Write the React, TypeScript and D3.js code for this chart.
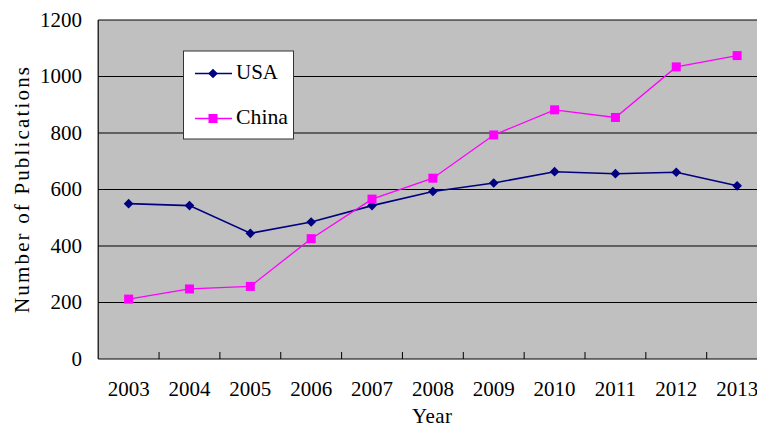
import React from "react";
import * as d3 from "d3";

const years = ["2003", "2004", "2005", "2006", "2007", "2008", "2009", "2010", "2011", "2012", "2013"];
const usa = [550, 543, 445, 485, 543, 593, 623, 663, 656, 661, 613];
const china = [212, 248, 257, 426, 566, 640, 793, 882, 855, 1034, 1074];
const yTicks = [0, 200, 400, 600, 800, 1000, 1200];

const W = 757;
const H = 431;
const left = 98.2;
const band = 60.85;
const top = 20;
const bottom = 359;
const FONT = "Liberation Serif, DejaVu Serif, serif";
const ts = { fontFamily: FONT, fontSize: 21, fill: "#000" } as const;

export default function App() {
  const x = d3
    .scaleBand<string>()
    .domain(years)
    .range([left, left + band * years.length])
    .padding(0);
  const y = d3.scaleLinear().domain([0, 1200]).range([bottom, top]);
  const cx = (yr: string) => (x(yr) as number) + x.bandwidth() / 2;

  const line = d3
    .line<number>()
    .x((_, i) => cx(years[i]))
    .y((d) => y(d));

  const right = left + band * years.length;
  const diamond = d3.symbol(d3.symbolDiamond2, 60)() || "";

  return (
    <svg width={W} height={H} style={{ position: "absolute", left: 0, top: 0, background: "#fff" }}>
      <rect x={left} y={top} width={right - left} height={bottom - top} fill="#C0C0C0" />
      {yTicks.map((t) => (
        <g key={t}>
          {t > 0 && <line x1={left} x2={right} y1={y(t)} y2={y(t)} stroke="#000" strokeWidth={1} />}
          <text x={82} y={y(t) + 2} textAnchor="end" dominantBaseline="middle" style={ts}>
            {t}
          </text>
        </g>
      ))}
      <line x1={left} x2={left} y1={top} y2={bottom} stroke="#000" strokeWidth={1.2} />
      <line x1={left} x2={right} y1={bottom} y2={bottom} stroke="#000" strokeWidth={1.2} />
      {years.slice(1).map((yr) => (
        <line key={yr} x1={x(yr)} x2={x(yr)} y1={bottom} y2={bottom - 7} stroke="#000" strokeWidth={1} />
      ))}
      {years.map((yr) => (
        <text key={yr} x={cx(yr)} y={391} textAnchor="middle" dominantBaseline="middle" style={ts}>
          {yr}
        </text>
      ))}
      <path d={line(usa) || ""} fill="none" stroke="#000080" strokeWidth={1.6} />
      <path d={line(china) || ""} fill="none" stroke="#FF00FF" strokeWidth={1.3} />
      {usa.map((v, i) => (
        <path key={"u" + i} d={diamond} transform={`translate(${cx(years[i])},${y(v)})`} fill="#000080" />
      ))}
      {china.map((v, i) => (
        <rect key={"c" + i} x={cx(years[i]) - 4.5} y={y(v) - 4.5} width={9} height={9} fill="#FF00FF" />
      ))}
      <rect x={183.5} y={51} width={110} height={88} fill="#fff" stroke="#333" strokeWidth={1} />
      <line x1={195} x2={232} y1={73.5} y2={73.5} stroke="#000080" strokeWidth={1.6} />
      <path d={diamond} transform={`translate(213,73.5)`} fill="#000080" />
      <text x={236} y={74} dominantBaseline="middle" style={ts}>
        USA
      </text>
      <line x1={195} x2={232} y1={118.5} y2={118.5} stroke="#FF00FF" strokeWidth={1.3} />
      <rect x={208.5} y={114} width={9} height={9} fill="#FF00FF" />
      <text x={236} y={119} dominantBaseline="middle" style={ts} textLength={52} lengthAdjust="spacingAndGlyphs">
        China
      </text>
      <text x={432} y={423} textAnchor="middle" style={ts} textLength={40}>
        Year
      </text>
      <text
        transform={`translate(29,190) rotate(-90)`}
        textAnchor="middle"
        style={ts}
        textLength={246}
        lengthAdjust="spacing"
      >
        Number of Publications
      </text>
    </svg>
  );
}
